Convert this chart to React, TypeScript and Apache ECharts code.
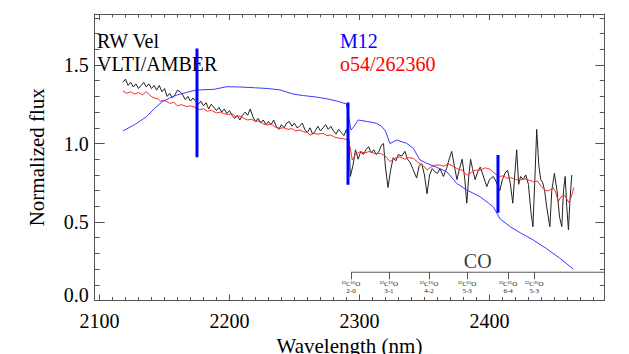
import React, { useEffect, useRef } from "react";
import * as echarts from "echarts";

// ---- axis extents & ticks ----
const X_MIN = 2096.3;
const X_MAX = 2488.4;
const Y_MIN = 0;
const Y_MAX = 1.825;
const xMajorTicks = [2100, 2200, 2300, 2400];
const xMinorTicks: number[] = [];
for (let v = 2100; v <= 2480; v += 10) xMinorTicks.push(v);
const yMajorTicks = [0, 0.5, 1.0, 1.5];
const yMinorTicks: number[] = [];
for (let i = 0; i <= 18; i++) yMinorTicks.push(+(i * 0.1).toFixed(1));

// ---- RW Vel (VLTI/AMBER) spectrum: [wavelength nm, normalized flux] ----
const rwVel: [number, number][] = [
  [2118,1.39],[2120,1.41],[2122,1.37],[2124,1.39],[2126,1.36],[2128,1.38],[2130,1.35],[2132,1.37],[2134,1.39],[2136,1.36],
  [2138,1.38],[2140,1.35],[2142,1.37],[2144,1.34],[2146,1.37],[2148,1.33],[2150,1.35],[2152,1.30],[2154,1.32],[2156,1.29],
  [2158,1.31],[2160,1.34],[2162,1.33],[2164,1.31],[2166,1.28],[2168,1.30],[2170,1.27],[2172,1.29],[2174,1.27],[2176,1.25],
  [2178,1.27],[2180,1.24],[2182,1.26],[2184,1.22],[2186,1.25],[2188,1.23],[2190,1.21],[2192,1.23],[2194,1.20],[2196,1.22],
  [2198,1.19],[2200,1.21],[2202,1.18],[2204,1.16],[2206,1.18],[2208,1.15],[2210,1.18],[2212,1.20],[2214,1.18],[2216,1.22],
  [2218,1.17],[2220,1.14],[2222,1.16],[2224,1.13],[2226,1.15],[2228,1.12],[2230,1.14],[2232,1.12],[2234,1.15],[2236,1.11],
  [2238,1.09],[2240,1.12],[2242,1.10],[2244,1.13],[2246,1.14],[2248,1.11],[2250,1.13],[2252,1.10],[2254,1.11],[2256,1.13],
  [2258,1.09],[2260,1.07],[2262,1.10],[2264,1.06],[2266,1.08],[2268,1.11],[2270,1.08],[2272,1.10],[2274,1.12],[2276,1.09],
  [2278,1.11],[2280,1.08],[2282,1.06],[2284,1.09],[2286,1.07],[2288,1.05],[2290,1.09],[2292,1.02],[2293,0.79],[2295,0.86],
  [2297,0.96],[2299,0.90],[2301,0.95],[2303,0.93],[2305,0.96],[2307,0.98],[2309,0.94],[2311,0.96],[2313,0.93],[2315,0.95],
  [2317,0.99],[2318.5,1.00],[2320,0.85],[2322,0.72],[2324,0.83],[2326,0.91],[2328,0.89],[2330,0.93],[2332.6,0.92],[2335,0.95],
  [2337,0.90],[2339,0.88],[2341,0.84],[2344,0.78],[2346,0.86],[2348,0.87],[2350,0.80],[2352,0.68],[2354,0.80],[2356,0.84],
  [2358,0.82],[2360,0.81],[2362,0.84],[2364.6,0.79],[2367,0.84],[2369,0.90],[2371,0.95],[2373,0.86],[2375,0.77],[2377,0.84],
  [2379,0.90],[2381,0.78],[2382.6,0.62],[2384,0.78],[2385.5,0.90],[2387,0.84],[2389,0.77],[2391,0.82],[2393,0.85],[2395,0.80],
  [2398,0.725],[2400,0.77],[2403,0.79],[2405,0.76],[2408,0.70],[2410,0.77],[2412,0.81],[2414,0.83],[2416,0.75],[2418,0.62],
  [2419.5,0.80],[2421,0.96],[2422.5,0.74],[2424,0.79],[2426,0.77],[2428,0.80],[2430,0.74],[2432,0.56],[2433.5,0.47],[2435,0.78],
  [2436.4,1.09],[2438,0.86],[2439.5,0.77],[2441,0.75],[2442.5,0.70],[2444,0.60],[2446.5,0.47],[2448,0.70],[2450,0.81],[2452,0.70],
  [2454,0.53],[2455.7,0.47],[2457,0.70],[2458.3,0.79],[2459.5,0.60],[2460.8,0.45],[2462,0.64],[2463.4,0.80]
];

// ---- template o54/262360 ----
const o54: [number, number][] = [
  [2118,1.334],[2121,1.32],[2124,1.33],[2127,1.315],[2130,1.325],[2133,1.31],[2136,1.33],[2139,1.305],[2142,1.29],[2145,1.285],
  [2147,1.27],[2150,1.275],[2154,1.256],[2157,1.262],[2160,1.24],[2163,1.248],[2167,1.235],[2170,1.24],[2173.5,1.231],[2177,1.215],
  [2180,1.222],[2183,1.205],[2186,1.212],[2190,1.195],[2193,1.2],[2196,1.19],[2199,1.185],[2202,1.19],[2205,1.17],[2208,1.175],
  [2211,1.16],[2214,1.15],[2217,1.155],[2220,1.14],[2223,1.145],[2226,1.125],[2229,1.118],[2232,1.125],[2235,1.105],[2239,1.097],
  [2242,1.1],[2245,1.09],[2248,1.095],[2251,1.08],[2254,1.086],[2257,1.075],[2260,1.07],[2262,1.054],[2265,1.065],[2268,1.06],
  [2272,1.065],[2275,1.05],[2278,1.055],[2281,1.04],[2285,1.033],[2288,1.03],[2291,1.022],[2293,0.97],[2294.5,0.895],[2297,0.93],
  [2300.5,0.948],[2304,0.94],[2308,0.95],[2312,0.935],[2316,0.938],[2320,0.92],[2323.5,0.884],[2327,0.905],[2331,0.915],[2335,0.9],
  [2338,0.91],[2341.5,0.906],[2345,0.88],[2349,0.86],[2352,0.831],[2355,0.85],[2358,0.862],[2362,0.863],[2365,0.855],[2368,0.87],
  [2372,0.857],[2375,0.84],[2379,0.83],[2382.6,0.799],[2386,0.815],[2389,0.83],[2393,0.831],[2397,0.845],[2400.5,0.836],[2404,0.81],
  [2408,0.79],[2411,0.795],[2413.3,0.778],[2417,0.782],[2420,0.77],[2423.6,0.768],[2427,0.775],[2431,0.765],[2434,0.757],[2437,0.76],
  [2440,0.725],[2443,0.70],[2446,0.70],[2449,0.72],[2451,0.69],[2453,0.63],[2455,0.66],[2458,0.67],[2461,0.625],[2463,0.66],[2465,0.72]
];

// ---- model M12 ----
const m12: [number, number][] = [
  [2118,1.08],[2127,1.12],[2136,1.17],[2142,1.22],[2148,1.265],[2154,1.29],[2160,1.31],[2167,1.325],[2174,1.34],[2181,1.343],
  [2188,1.345],[2198,1.362],[2208,1.36],[2220,1.355],[2230,1.35],[2239,1.341],[2249,1.315],[2257,1.305],[2265,1.298],[2275,1.285],
  [2283,1.27],[2290,1.252],[2293.5,1.086],[2296,1.11],[2299,1.15],[2306,1.14],[2313,1.129],[2317,1.11],[2320,1.08],[2323.5,1.0],
  [2328.7,1.022],[2336.4,1.001],[2341.5,0.969],[2346.6,0.895],[2351.8,0.874],[2359.5,0.848],[2367.2,0.82],[2374.9,0.746],[2382.6,0.704],[2392.8,0.661],
  [2403,0.597],[2408.2,0.52],[2416,0.47],[2424,0.43],[2433.8,0.385],[2444,0.33],[2454,0.27],[2464.6,0.2]
];

// ---- thick blue markers ----
const barX = [2175.0, 2291.2, 2406.6];
const barTop = [1.606, 1.262, 0.927];
const barBottom = [0.912, 0.737, 0.559];

// ---- CO bandheads ----
const coLevel = 0.18;
const coTickEnd = 0.135;
const coStart = 2293.5;
const coLabelX = 2391;
const coBands = [2293.5, 2322.7, 2353.5, 2382.9, 2414.4, 2434.5];
const coBandLabels = ["2-0", "3-1", "4-2", "5-3", "6-4", "5-3"];

const FONT = "Liberation Serif";
const FRAME = "#555";

function tickAxis(pos: string, vals: number[], len: number, showLine: boolean, extra: any = {}) {
  return {
    type: "value",
    position: pos,
    min: pos === "left" || pos === "right" ? Y_MIN : X_MIN,
    max: pos === "left" || pos === "right" ? Y_MAX : X_MAX,
    axisLine: { show: showLine, onZero: false, lineStyle: { color: FRAME, width: 1 } },
    axisTick: { show: true, inside: true, length: len, customValues: vals, lineStyle: { color: FRAME, width: 1 } },
    axisLabel: { show: false },
    splitLine: { show: false },
    ...extra,
  };
}

export default function App() {
  const ref = useRef<HTMLDivElement>(null);
  useEffect(() => {
    if (!ref.current) return;
    const chart = echarts.init(ref.current, null, { renderer: "svg" });
    const labelStyle = { fontFamily: FONT, fontSize: 20, color: "#000", fontWeight: "normal" };
    const option: any = {
      animation: false,
      backgroundColor: "#fff",
      textStyle: { fontFamily: FONT },
      grid: { left: 94.7, top: 14, right: 24.7, bottom: 53.5, containLabel: false, outerBoundsMode: "none" },
      xAxis: [
        tickAxis("bottom", xMajorTicks, 6, true, {
          axisLabel: {
            show: true,
            customValues: xMajorTicks,
            margin: 10,
            formatter: (v: number) => String(Math.round(v)),
            ...labelStyle,
          },
          name: "Wavelength (nm)",
          nameLocation: "middle",
          nameGap: 27,
          nameTextStyle: { fontFamily: FONT, fontSize: 21, color: "#000" },
        }),
        tickAxis("bottom", xMinorTicks, 3.5, false),
        tickAxis("top", xMajorTicks, 6, true),
        tickAxis("top", xMinorTicks, 3.5, false),
      ],
      yAxis: [
        tickAxis("left", yMajorTicks, 10, true, {
          axisLabel: {
            show: true,
            customValues: yMajorTicks,
            margin: 6,
            formatter: (v: number) => v.toFixed(1),
            verticalAlignMinLabel: "bottom",
            lineHeight: 12,
            ...labelStyle,
          },
          name: "Normalized flux",
          nameLocation: "middle",
          nameGap: 47,
          nameTextStyle: { fontFamily: FONT, fontSize: 21, color: "#000" },
        }),
        tickAxis("left", yMinorTicks, 5, false),
        tickAxis("right", yMajorTicks, 9, true),
        tickAxis("right", yMinorTicks, 4.5, false),
      ],
      series: [
        {
          type: "line", name: "RW Vel", data: rwVel, showSymbol: false, symbol: "none",
          lineStyle: { color: "#222", width: 1 }, z: 2,
        },
        {
          type: "line", name: "o54/262360", data: o54, showSymbol: false, symbol: "none",
          lineStyle: { color: "#ff2a2a", width: 1 }, z: 3,
        },
        {
          type: "line", name: "M12", data: m12, showSymbol: false, symbol: "none",
          lineStyle: { color: "#3a3aff", width: 1 }, z: 3,
        },
        ...barX.map((x, i) => ({
          type: "line", data: [[x, barBottom[i]], [x, barTop[i]]], showSymbol: false, symbol: "none",
          lineStyle: { color: "#0000ff", width: 3 }, z: 5,
        })),
        {
          type: "line", name: "CO",
          data: [[coStart, coLevel], [X_MAX, coLevel]],
          showSymbol: false, symbol: "none",
          itemStyle: { color: "#444" },
          lineStyle: { color: "#555", width: 1 }, z: 4,
          markLine: {
            silent: true,
            symbol: "none",
            animation: false,
            itemStyle: { color: "#333" },
            lineStyle: { color: "#555", width: 1, type: "solid" },
            label: {
              show: true, position: "end", distance: 1,
              formatter: (p: any) => p.name,
              fontFamily: FONT, fontSize: 7, lineHeight: 7, color: "#222", align: "center",
            },
            data: coBands.map((b, i) => [
              { coord: [b, coLevel], name: "\u00B9\u00B2C\u00B9\u2076O\n" + coBandLabels[i] },
              { coord: [b, coTickEnd] },
            ]),
          },
        },
        {
          type: "scatter", data: [[coLabelX, coLevel]], symbolSize: 0, z: 4,
          label: { show: true, position: "top", distance: 1, formatter: "CO", fontFamily: FONT, fontSize: 20, color: "#000" },
        },
      ],
      graphic: [
        { type: "text", left: 97, top: 31, style: { text: "RW Vel", fontFamily: FONT, fontSize: 20, fill: "#000" } },
        { type: "text", left: 97, top: 54, style: { text: "VLTI/AMBER", fontFamily: FONT, fontSize: 20, fill: "#000" } },
        { type: "text", left: 340, top: 31, style: { text: "M12", fontFamily: FONT, fontSize: 20, fill: "#0000ff" } },
        { type: "text", left: 340, top: 54, style: { text: "o54/262360", fontFamily: FONT, fontSize: 20, fill: "#ff0000" } },
      ],
    };
    chart.setOption(option);
    return () => chart.dispose();
  }, []);
  return (
    <div
      ref={ref}
      style={{ position: "fixed", left: 0, top: 0, width: 629, height: 354, background: "#fff" }}
    />
  );
}
